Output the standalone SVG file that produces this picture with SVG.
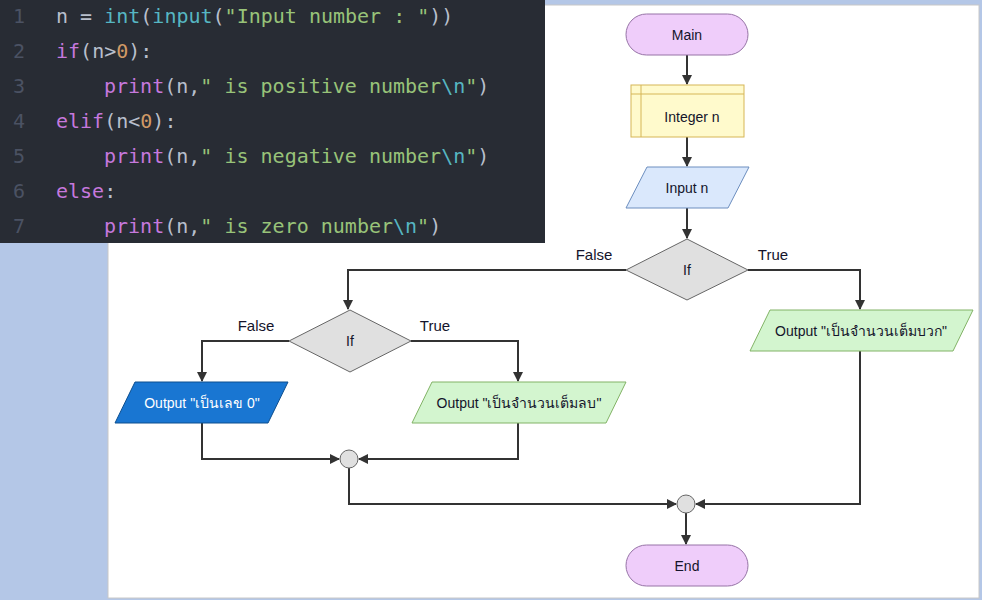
<svg xmlns="http://www.w3.org/2000/svg" width="982" height="600" viewBox="0 0 982 600">
<defs>
<marker id="arr" viewBox="0 0 10 10" refX="9" refY="5" markerWidth="10" markerHeight="10" markerUnits="userSpaceOnUse" orient="auto">
<path d="M0,0 L10,5 L0,10 z" fill="#333"/>
</marker>
<style>
.code{font-family:"DejaVu Sans Mono","Liberation Mono",monospace;font-size:20px;fill:#b8bfcc;white-space:pre}
.ln{fill:#4b5263}
.kw{fill:#c678dd}
.fn{fill:#56b6c2}
.st{fill:#98c379}
.nu{fill:#d19a66}
.t{font-family:"Liberation Sans","Noto Sans",sans-serif;font-size:14px;fill:#14142b;text-anchor:middle;dominant-baseline:central}
.lbl{font-family:"Liberation Sans","Noto Sans",sans-serif;font-size:15px;fill:#14142b;text-anchor:middle}
.edge{fill:none;stroke:#333;stroke-width:2}
.term{fill:#efcdfa;stroke:#9673a6;stroke-width:1}
.dec{fill:#e0e0e0;stroke:#666;stroke-width:1}
.io{fill:#dae8fc;stroke:#6c8ebf;stroke-width:1}
.out{fill:#d3f5cf;stroke:#82b366;stroke-width:1}
</style>
</defs>
<rect x="0" y="0" width="982" height="600" fill="#b4c7e7"/>
<rect x="108" y="5" width="871" height="593" fill="#ffffff" stroke="#c8c8c8" stroke-width="1"/>
<g id="code">
<rect x="0" y="0" width="545" height="243" fill="#282c34"/>
<text class="code" y="23"><tspan class="ln" x="13">1</tspan><tspan x="56">n = </tspan><tspan class="fn">int</tspan>(<tspan class="fn">input</tspan>(<tspan class="st">"Input number : "</tspan>))</text>
<text class="code" y="58"><tspan class="ln" x="13">2</tspan><tspan x="56" class="kw">if</tspan>(n&gt;<tspan class="nu">0</tspan>):</text>
<text class="code" y="93"><tspan class="ln" x="13">3</tspan><tspan x="104" class="kw">print</tspan>(n,<tspan class="st">" is positive number</tspan><tspan class="fn">\n</tspan><tspan class="st">"</tspan>)</text>
<text class="code" y="128"><tspan class="ln" x="13">4</tspan><tspan x="56" class="kw">elif</tspan>(n&lt;<tspan class="nu">0</tspan>):</text>
<text class="code" y="163"><tspan class="ln" x="13">5</tspan><tspan x="104" class="kw">print</tspan>(n,<tspan class="st">" is negative number</tspan><tspan class="fn">\n</tspan><tspan class="st">"</tspan>)</text>
<text class="code" y="198"><tspan class="ln" x="13">6</tspan><tspan x="56" class="kw">else</tspan>:</text>
<text class="code" y="233"><tspan class="ln" x="13">7</tspan><tspan x="104" class="kw">print</tspan>(n,<tspan class="st">" is zero number</tspan><tspan class="fn">\n</tspan><tspan class="st">"</tspan>)</text>
</g>
<g id="connectors">
<path class="edge" d="M687,55 V84" marker-end="url(#arr)"/>
<path class="edge" d="M687,137 V166" marker-end="url(#arr)"/>
<path class="edge" d="M687,208 V238" marker-end="url(#arr)"/>
<path class="edge" d="M626,270 H348 V309" marker-end="url(#arr)"/>
<path class="edge" d="M748,270 H860 V309" marker-end="url(#arr)"/>
<path class="edge" d="M289,341 H202 V381" marker-end="url(#arr)"/>
<path class="edge" d="M411,341 H518 V381" marker-end="url(#arr)"/>
<path class="edge" d="M202,423 V459 H339" marker-end="url(#arr)"/>
<path class="edge" d="M518,423 V459 H359" marker-end="url(#arr)"/>
<path class="edge" d="M349,468 V504 H676" marker-end="url(#arr)"/>
<path class="edge" d="M860,351 V504 H696" marker-end="url(#arr)"/>
<path class="edge" d="M686,513 V544" marker-end="url(#arr)"/>
<text class="lbl" x="594" y="260">False</text>
<text class="lbl" x="773" y="260">True</text>
<text class="lbl" x="256" y="331">False</text>
<text class="lbl" x="435" y="331">True</text>
</g>
<g id="main"><rect class="term" x="626" y="14" width="122" height="41" rx="20.5"/><text class="t" x="687" y="35">Main</text></g>
<g id="integer"><rect x="631" y="85" width="113" height="52" fill="#fffacc" stroke="#d6b656"/><path d="M631,94 H744 M641,85 V137" stroke="#d6b656" fill="none"/><text class="t" x="692" y="117">Integer n</text></g>
<g id="input"><path class="io" d="M647,167 H749 L728,208 H626 Z"/><text class="t" x="687" y="188">Input n</text></g>
<g id="if1"><path class="dec" d="M687,239 L748,270 L687,300 L626,270 Z"/><text class="t" x="687" y="270">If</text></g>
<g id="if2"><path class="dec" d="M350,310 L411,341 L350,372 L289,341 Z"/><text class="t" x="350" y="341">If</text></g>
<g id="zero"><path d="M135,382 H288 L268,423 H115 Z" fill="#1976d2" stroke="#0d4f8f"/><text class="t" x="202" y="403" style="fill:#ffffff">Output "เป็นเลข 0"</text></g>
<g id="negative"><path class="out" d="M432,382 H626 L606,423 H412 Z"/><text class="t" x="519" y="403">Output "เป็นจำนวนเต็มลบ"</text></g>
<g id="positive"><path class="out" d="M770,310 H973 L953,351 H750 Z"/><text class="t" x="861" y="331">Output "เป็นจำนวนเต็มบวก"</text></g>
<g id="merge1"><circle class="dec" cx="349" cy="459" r="9"/></g>
<g id="merge2"><circle class="dec" cx="686" cy="504" r="9"/></g>
<g id="end"><rect class="term" x="626" y="545" width="122" height="41" rx="20.5"/><text class="t" x="687" y="566">End</text></g>
</svg>
